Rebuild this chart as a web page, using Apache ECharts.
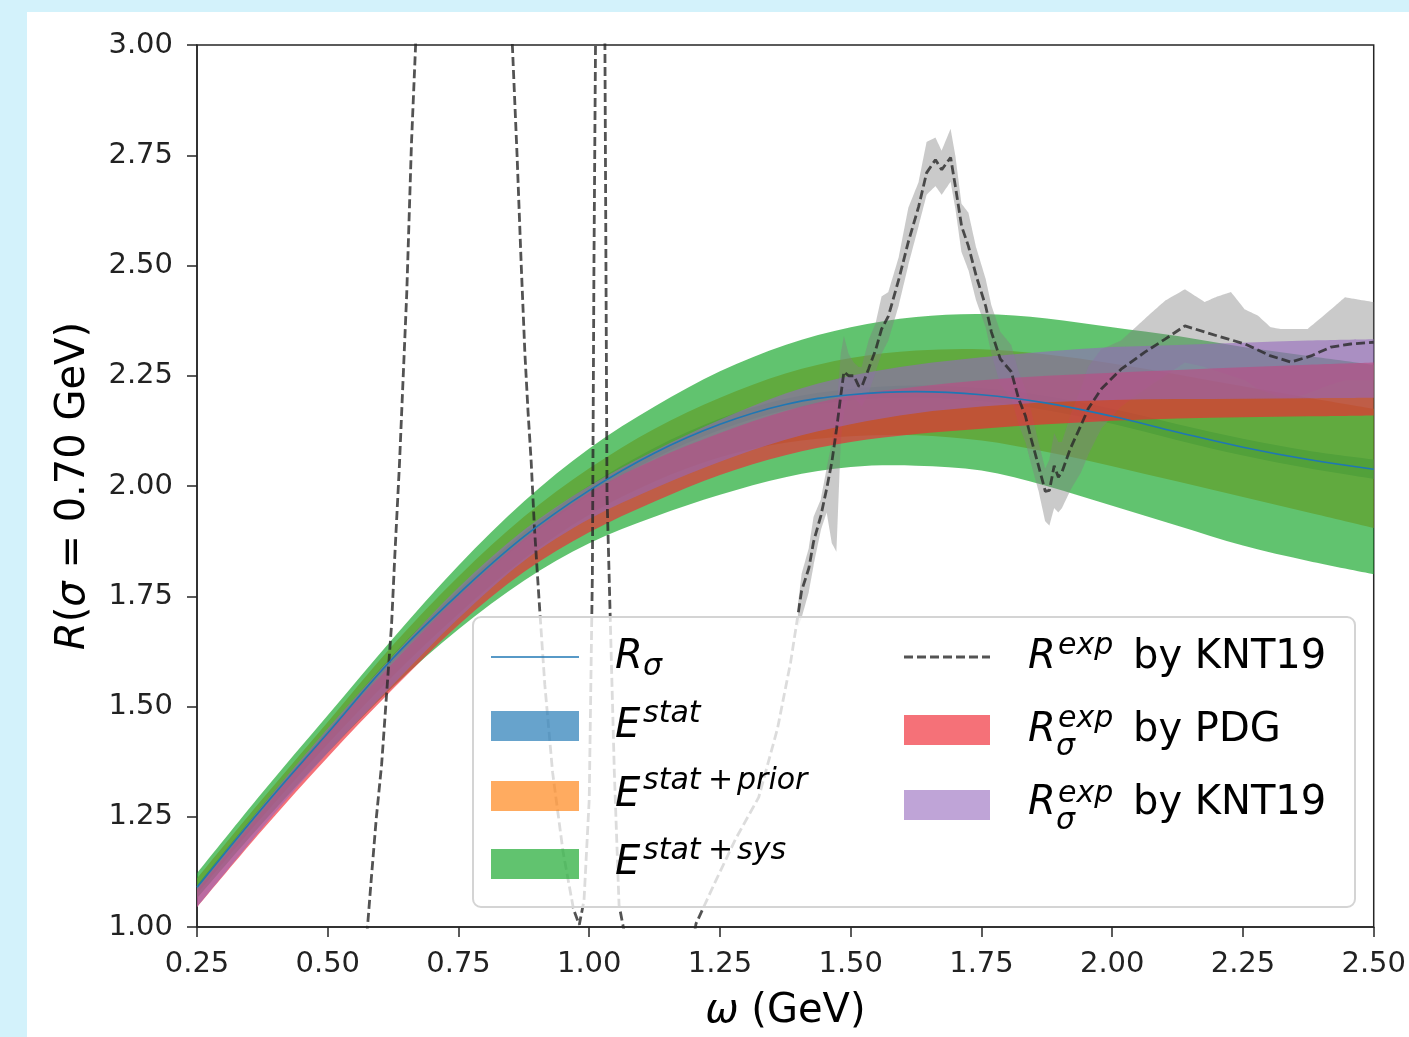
<!DOCTYPE html>
<html><head><meta charset="utf-8">
<script src="https://cdn.jsdelivr.net/npm/echarts@6/dist/echarts.min.js"></script>
<style>
html,body{margin:0;padding:0;width:1409px;height:1037px;background:#d3f2fb;overflow:hidden}
#chart{position:absolute;left:27px;top:12px;width:1382px;height:1025px;background:#fff}
</style></head><body><div id="chart"></div>
<script>
// ---- data ----
const omega = [0.25,0.375,0.5,0.625,0.75,0.875,1.0,1.125,1.25,1.375,1.5,1.625,1.75,1.875,2.0,2.125,2.25,2.375,2.5];
const rSigma = [1.09,1.27,1.44,1.61,1.755,1.885,1.99,2.075,2.14,2.185,2.207,2.214,2.207,2.188,2.158,2.122,2.088,2.06,2.038];
const statLo = [1.085,1.264,1.433,1.602,1.746,1.875,1.979,2.063,2.127,2.172,2.194,2.2,2.192,2.172,2.141,2.104,2.069,2.04,2.016];
const statHi = [1.095,1.276,1.447,1.618,1.764,1.895,2.001,2.087,2.153,2.198,2.22,2.228,2.222,2.204,2.175,2.14,2.107,2.08,2.06];
const priorLo = [1.075,1.25,1.415,1.57,1.71,1.835,1.935,2.01,2.065,2.098,2.113,2.115,2.103,2.077,2.045,2.01,1.975,1.94,1.905];
const priorHi = [1.11,1.29,1.465,1.64,1.795,1.93,2.04,2.13,2.2,2.255,2.29,2.307,2.31,2.298,2.278,2.253,2.226,2.2,2.175];
const sysLo = [1.065,1.235,1.395,1.545,1.675,1.785,1.87,1.93,1.98,2.02,2.043,2.046,2.035,2.0,1.955,1.91,1.865,1.83,1.80];
const sysHi = [1.122,1.305,1.48,1.655,1.82,1.965,2.085,2.18,2.26,2.32,2.36,2.383,2.39,2.38,2.36,2.34,2.315,2.295,2.275];
const pdgLo = [1.045,1.22,1.385,1.54,1.685,1.805,1.895,1.965,2.025,2.07,2.1,2.118,2.13,2.14,2.148,2.153,2.156,2.158,2.16];
const pdgHi = [1.085,1.265,1.44,1.60,1.75,1.88,1.985,2.06,2.12,2.17,2.205,2.225,2.24,2.25,2.257,2.263,2.269,2.275,2.28];
const kntLo = [1.045,1.225,1.395,1.55,1.70,1.83,1.925,1.995,2.055,2.105,2.14,2.165,2.18,2.19,2.195,2.197,2.198,2.199,2.20];
const kntHi = [1.09,1.275,1.45,1.615,1.77,1.90,2.0,2.08,2.15,2.21,2.25,2.275,2.292,2.305,2.315,2.32,2.325,2.33,2.333];

// experimental R (KNT19), dashed
const expX = [0.50,0.55,0.576,0.584,0.593,0.603,0.613,0.622,0.628,0.637,0.651,0.660,0.668,0.69,0.74,0.77,0.782,0.79,0.82,0.845,
  0.853,0.862,0.870,0.877,0.883,0.889,0.895,0.901,0.906,0.915,0.93,0.95,0.97,0.981,0.99,1.0,1.006,1.009,1.012,1.02,
  1.030,1.034,1.040,1.048,1.057,1.07,1.10,1.15,1.19,1.204,1.24,1.28,1.324,1.36,1.385,1.399,1.406,1.42,1.429,1.443,
  1.454,1.464,1.473,1.481,1.487,1.496,1.506,1.515,1.521,1.534,1.548,1.559,1.572,1.592,1.61,1.63,1.645,1.662,1.674,1.691,
  1.70,1.712,1.725,1.74,1.758,1.769,1.786,1.807,1.821,1.834,1.845,1.859,1.872,1.880,1.889,1.897,1.904,1.92,1.94,1.954,
  1.979,2.017,2.063,2.101,2.139,2.202,2.254,2.303,2.342,2.38,2.418,2.456,2.5];
const expR = [0.40,0.70,1.00,1.12,1.249,1.368,1.536,1.685,1.836,2.046,2.435,2.774,3.00,4.5,9,11,8,10,6,3.4,
  3.0,2.75,2.50,2.30,2.168,2.055,1.91,1.798,1.707,1.55,1.35,1.17,1.04,1.005,1.06,1.29,1.8,2.5,3.0,6.0,
  3.0,1.98,1.707,1.35,1.05,0.97,0.85,0.80,0.90,1.007,1.10,1.20,1.294,1.45,1.60,1.707,1.762,1.814,1.874,1.933,
  1.994,2.055,2.13,2.205,2.259,2.25,2.25,2.227,2.225,2.265,2.31,2.356,2.385,2.469,2.553,2.634,2.71,2.74,2.717,2.745,
  2.68,2.589,2.544,2.476,2.408,2.349,2.288,2.259,2.198,2.159,2.107,2.046,1.988,1.99,2.046,2.02,2.032,2.085,2.137,2.175,
  2.22,2.265,2.304,2.333,2.363,2.34,2.322,2.295,2.281,2.295,2.315,2.322,2.326];
// its uncertainty band
const fillX = [1.399,1.406,1.42,1.429,1.443,1.454,1.464,1.473,1.481,1.487,1.496,1.506,1.515,1.521,1.534,1.548,1.559,1.572,1.592,1.61,
  1.63,1.645,1.662,1.674,1.691,1.70,1.712,1.725,1.74,1.758,1.769,1.786,1.807,1.821,1.834,1.845,1.859,1.872,1.880,1.889,
  1.897,1.904,1.92,1.94,1.954,1.979,2.017,2.063,2.101,2.139,2.177,2.202,2.227,2.254,2.279,2.303,2.323,2.342,2.374,2.418,2.445,2.5];
const fillLo = [1.68,1.70,1.76,1.82,1.90,1.94,1.87,1.85,2.10,2.17,2.20,2.20,2.19,2.18,2.21,2.26,2.30,2.33,2.41,2.50,
  2.59,2.66,2.68,2.66,2.69,2.63,2.53,2.49,2.42,2.36,2.30,2.23,2.20,2.14,2.10,2.05,1.99,1.92,1.91,1.95,
  1.94,1.95,1.99,2.03,2.07,2.13,2.18,2.22,2.25,2.28,2.27,2.26,2.25,2.24,2.22,2.21,2.20,2.20,2.21,2.23,2.24,2.24];
const fillHi = [1.73,1.80,1.86,1.93,1.97,2.04,2.10,2.17,2.30,2.34,2.30,2.28,2.27,2.27,2.33,2.37,2.43,2.44,2.52,2.63,
  2.69,2.78,2.79,2.76,2.81,2.75,2.64,2.62,2.54,2.47,2.41,2.35,2.32,2.26,2.22,2.17,2.10,2.04,2.06,2.12,
  2.10,2.10,2.16,2.22,2.27,2.31,2.33,2.38,2.42,2.446,2.417,2.43,2.44,2.40,2.386,2.36,2.356,2.356,2.356,2.40,2.428,2.417];

const xTicks = [0.25,0.5,0.75,1.0,1.25,1.5,1.75,2.0,2.25,2.5];
const yTicks = [1.0,1.25,1.5,1.75,2.0,2.25,2.5,2.75,3.0];

// ---- colours ----
const C = {
  blue:'rgba(31,119,180,0.68)', orange:'rgba(255,127,14,0.66)', green:'rgba(30,170,50,0.7)',
  red:'rgba(240,40,50,0.66)', purple:'rgba(148,103,189,0.6)', gray:'rgba(128,128,128,0.42)',
  dash:'rgba(40,40,40,0.8)', line:'#1f77b4'
};
const FONT = 'DejaVu Sans';

// smooth path through pixel points (Catmull-Rom -> cubic Bezier); tension 0 gives straight segments
function curve(pts, t, first){
  let d = first ? 'M' + pts[0][0] + ' ' + pts[0][1] : 'L' + pts[0][0] + ' ' + pts[0][1];
  for (let i = 0; i < pts.length - 1; i++) {
    const p0 = pts[Math.max(i-1,0)], p1 = pts[i], p2 = pts[i+1], p3 = pts[Math.min(i+2, pts.length-1)];
    const c1 = [p1[0] + (p2[0]-p0[0])*t/6, p1[1] + (p2[1]-p0[1])*t/6];
    const c2 = [p2[0] - (p3[0]-p1[0])*t/6, p2[1] - (p3[1]-p1[1])*t/6];
    d += 'C' + c1[0] + ' ' + c1[1] + ' ' + c2[0] + ' ' + c2[1] + ' ' + p2[0] + ' ' + p2[1];
  }
  return d;
}
function band(name, xs, lo, hi, color, tension, z){
  return {
    name:name, type:'custom', z:z, silent:true, animation:false, clip:true,
    data: xs.map((x,i)=>[x, lo[i], hi[i]]),
    encode:{x:0, y:[1,2]},
    renderItem:function(params, api){
      if (params.dataIndex !== 0) return null;
      const up = xs.map((x,i)=>api.coord([x, hi[i]]));
      const dn = xs.map((x,i)=>api.coord([x, lo[i]])).reverse();
      const d = curve(up, tension, true) + curve(dn, tension, false) + 'Z';
      return {type:'path', shape:{pathData:d}, style:{fill:color, stroke:null}};
    }
  };
}

const series = [
  band('stat', omega, statLo, statHi, C.blue, 1, 2),
  band('prior', omega, priorLo, priorHi, C.orange, 1, 3),
  band('sys', omega, sysLo, sysHi, C.green, 1, 4),
  band('expfill', fillX, fillLo, fillHi, C.gray, 0, 5),
  band('pdg', omega, pdgLo, pdgHi, C.red, 1, 6),
  band('knt', omega, kntLo, kntHi, C.purple, 1, 7),
  {name:'Rexp', type:'line', z:8, data:expX.map((x,i)=>[x,expR[i]]), symbol:'none', silent:true, animation:false,
    lineStyle:{color:C.dash, width:2.8, type:[9,4]}},
  {name:'Rsigma', type:'line', z:9, data:omega.map((x,i)=>[x,rSigma[i]]), symbol:'none', smooth:0.4, silent:true, animation:false,
    lineStyle:{color:C.line, width:1.6}}
];

// ---- legend (drawn as graphics; coordinates in chart-div pixels) ----
const G = [];
function txt(x, y, s, size, italic){
  G.push({type:'text', z:101, silent:true, style:{text:s, x:x, y:y - 0.35*size, fill:'#000',
    font:(italic?'italic ':'')+size+'px "'+FONT+'"', align:'left', verticalAlign:'middle'}});
}
function rect(x, y, w, h, color){
  G.push({type:'rect', z:101, silent:true, shape:{x:x,y:y,width:w,height:h}, style:{fill:color}});
}
G.push({type:'rect', z:100, silent:true, shape:{x:446,y:605,width:882,height:290,r:8},
  style:{fill:'rgba(255,255,255,0.8)', stroke:'#d4d4d4', lineWidth:2}});
G.push({type:'line', z:101, silent:true, shape:{x1:464,y1:645,x2:552,y2:645}, style:{stroke:C.line, lineWidth:1.6}});
rect(464,699,88,30,C.blue); rect(464,769,88,30,C.orange); rect(464,837,88,30,C.green);
G.push({type:'line', z:101, silent:true, shape:{x1:877,y1:645,x2:963,y2:645}, style:{stroke:C.dash, lineWidth:2.8, lineDash:[9,4]}});
rect(877,703,86,30,C.red); rect(877,778,86,30,C.purple);
const LS = 40, SS = 30;
// column 1
txt(588,660,'R',LS,true); txt(616,666,'σ',SS,true);
txt(588,729,'E',LS,true); txt(616,713,'stat',SS,true);
txt(588,798,'E',LS,true); txt(616,780,'stat',SS,true); txt(681,780,'+',SS,false); txt(710,780,'prior',SS,true);
txt(588,866,'E',LS,true); txt(616,850,'stat',SS,true); txt(681,850,'+',SS,false); txt(710,850,'sys',SS,true);
// column 2
txt(1001,660,'R',LS,true); txt(1031,645,'exp',SS,true); txt(1106,660,'by KNT19',LS,false);
txt(1001,733,'R',LS,true); txt(1031,718,'exp',SS,true); txt(1029,746,'σ',SS,true); txt(1106,733,'by PDG',LS,false);
txt(1001,806,'R',LS,true); txt(1031,793,'exp',SS,true); txt(1029,820,'σ',SS,true); txt(1106,806,'by KNT19',LS,false);

const axisColor = '#262626';
const option = {
  backgroundColor:'#ffffff',
  animation:false,
  textStyle:{fontFamily:FONT},
  grid:{left:170, top:33, width:1179, height:885, show:true, borderColor:axisColor, borderWidth:1.5, backgroundColor:'transparent'},
  xAxis:{type:'value', min:xTicks[0], max:xTicks[xTicks.length-1], interval:0.25,
    name:'{i|ω} (GeV)', nameLocation:'middle', nameGap:65,
    nameTextStyle:{fontSize:40, fontFamily:FONT, color:'#000', rich:{i:{fontSize:40, fontFamily:FONT, fontStyle:'italic', color:'#000'}}},
    axisLine:{show:true, lineStyle:{color:axisColor, width:1.5}},
    axisTick:{show:true, length:10, lineStyle:{color:axisColor, width:1.5}},
    axisLabel:{fontSize:29, fontFamily:FONT, color:'#222', margin:23, formatter:v=>v.toFixed(2)},
    splitLine:{show:false}},
  yAxis:{type:'value', min:yTicks[0], max:yTicks[yTicks.length-1], interval:0.25,
    name:'{i|R}({i|σ} = 0.70 GeV)', nameLocation:'middle', nameGap:103,
    nameTextStyle:{fontSize:40, fontFamily:FONT, color:'#000', rich:{i:{fontSize:40, fontFamily:FONT, fontStyle:'italic', color:'#000'}}},
    axisLine:{show:true, lineStyle:{color:axisColor, width:1.5}},
    axisTick:{show:true, length:10, lineStyle:{color:axisColor, width:1.5}},
    axisLabel:{fontSize:29, fontFamily:FONT, color:'#222', margin:24, formatter:v=>v.toFixed(2)},
    splitLine:{show:false}},
  series:series,
  graphic:{elements:G}
};
const chart = echarts.init(document.getElementById('chart'), null, {renderer:'canvas'});
chart.setOption(option);
</script></body></html>
